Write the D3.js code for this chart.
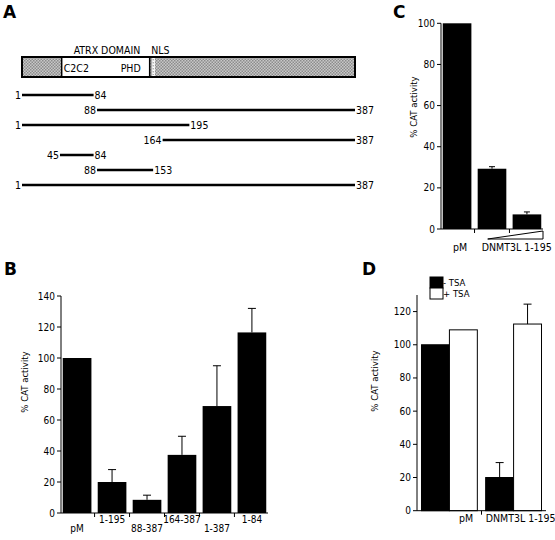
<!DOCTYPE html>
<html><head><meta charset="utf-8">
<script src="https://cdn.jsdelivr.net/npm/d3@7"></script>
<style>
body{margin:0;background:#fff;}
text{font-family:"DejaVu Sans Condensed","DejaVu Sans",sans-serif;fill:#000;}
</style></head>
<body><svg id="c" width="555" height="540"></svg>
<script>
// ---------- DATA ----------
// Panel A: constructs (residue ranges)
const fragStart = [1, 88, 1, 164, 45, 88, 1];
const fragEnd   = [84, 387, 195, 387, 84, 153, 387];
const proteinLen = [1, 387];
const atrxDomain = [47, 149];
const nlsRegion = [152, 155];
// Panel B
const bCats = ["pM", "1-195", "88-387", "164-387", "1-387", "1-84"];
const bVals = [100, 20, 8.5, 37.5, 69, 116.5];
const bErr  = [0, 8, 3, 12, 26, 15.5];
const bTicks = [0, 20, 40, 60, 80, 100, 120, 140];
// Panel C
const cCats = ["pM", "DNMT3L low", "DNMT3L high"];
const cVals = [100, 29.3, 7.1];
const cErr  = [0, 1, 1.2];
const cTicks = [0, 20, 40, 60, 80, 100];
// Panel D
const dCats = ["pM", "DNMT3L 1-195"];
const dSeries = ["- TSA", "+ TSA"];
const dMinus = [100, 20];
const dMinusErr = [0, 9];
const dPlus = [109, 112.5];
const dPlusErr = [0, 12];
const dTicks = [0, 20, 40, 60, 80, 100, 120];

const svg = d3.select("#c");
const FONT = 10;

// hatch pattern
const defs = svg.append("defs");
const pat = defs.append("pattern").attr("id","hatch").attr("width",3).attr("height",3)
  .attr("patternUnits","userSpaceOnUse");
pat.append("rect").attr("width",3).attr("height",3).attr("fill","#c8c8c8");
pat.append("rect").attr("width",1.5).attr("height",1.5).attr("fill","#8c8c8c");
pat.append("rect").attr("x",1.5).attr("y",1.5).attr("width",1.5).attr("height",1.5).attr("fill","#8c8c8c");

function panelLetter(t, x, y){
  svg.append("text").attr("x",x).attr("y",y).text(t)
    .style("font-family","'DejaVu Sans',sans-serif").style("font-weight","bold").style("font-size","17px");
}

// ---------- PANEL A ----------
panelLetter("A", 3, 18);
const xA = d3.scaleLinear().domain(proteinLen).range([22, 355]);
const gA = svg.append("g");
const barY = 57, barH = 20;
gA.append("rect").attr("x",xA(proteinLen[0])).attr("y",barY).attr("width",xA(proteinLen[1])-xA(proteinLen[0]))
  .attr("height",barH).attr("fill","url(#hatch)");
gA.append("rect").attr("x",xA(atrxDomain[0])).attr("y",barY).attr("width",xA(atrxDomain[1])-xA(atrxDomain[0]))
  .attr("height",barH).attr("fill","#fff").attr("stroke","#000").attr("stroke-width",1.5);
gA.append("rect").attr("x",xA(nlsRegion[0])).attr("y",barY).attr("width",xA(nlsRegion[1])-xA(nlsRegion[0]))
  .attr("height",barH).attr("fill","#fff");
gA.append("line").attr("x1",xA(nlsRegion[0])+1).attr("x2",xA(nlsRegion[0])+1).attr("y1",barY+2).attr("y2",barY+barH-2)
  .attr("stroke","#999").attr("stroke-width",1).attr("stroke-dasharray","1.5,1.5");
gA.append("rect").attr("x",xA(proteinLen[0])).attr("y",barY).attr("width",xA(proteinLen[1])-xA(proteinLen[0]))
  .attr("height",barH).attr("fill","none").attr("stroke","#000").attr("stroke-width",2);
gA.append("text").attr("x",xA(atrxDomain[0])+12).attr("y",barY-3).text("ATRX DOMAIN").style("font-size","10.5px");
gA.append("text").attr("x",xA(nlsRegion[0])-1).attr("y",barY-3).text("NLS").style("font-size","10.5px");
gA.append("text").attr("x",xA(atrxDomain[0])+2).attr("y",barY+15).text("C2C2").style("font-size","10.5px");
gA.append("text").attr("x",xA(atrxDomain[0])+59).attr("y",barY+15).text("PHD").style("font-size","10.5px");

const rowY = d3.scalePoint().domain(d3.range(fragStart.length)).range([95, 185]);
fragStart.forEach((s,i)=>{
  const y = rowY(i), e = fragEnd[i];
  gA.append("line").attr("x1",xA(s)).attr("x2",xA(e)).attr("y1",y).attr("y2",y)
    .attr("stroke","#000").attr("stroke-width",2.6);
  gA.append("text").attr("x",xA(s)-1).attr("y",y+4).attr("text-anchor","end").text(s).style("font-size","10.5px");
  gA.append("text").attr("x",xA(e)+1).attr("y",y+4).text(e).style("font-size","10.5px");
});

// generic axis drawing (Excel style)
function yAxis(g, y, ticks, x0, top){
  g.append("line").attr("x1",x0).attr("x2",x0).attr("y1",top).attr("y2",y(0)).attr("stroke","#000");
  ticks.forEach(t=>{
    g.append("line").attr("x1",x0-4).attr("x2",x0).attr("y1",y(t)).attr("y2",y(t)).attr("stroke","#000");
    g.append("text").attr("x",x0-6).attr("y",y(t)+3.5).attr("text-anchor","end").text(t).style("font-size",FONT+"px");
  });
}
function yLabel(g, x, cy){
  g.append("text").attr("transform",`translate(${x},${cy}) rotate(-90)`).attr("text-anchor","middle")
    .text("% CAT activity").style("font-size","9.5px");
}
function errBar(g, cx, top, errTop, cap){
  g.append("line").attr("x1",cx).attr("x2",cx).attr("y1",top).attr("y2",errTop).attr("stroke","#000");
  g.append("line").attr("x1",cx-cap).attr("x2",cx+cap).attr("y1",errTop).attr("y2",errTop).attr("stroke","#000");
}

// ---------- PANEL B ----------
panelLetter("B", 4, 275);
const gB = svg.append("g");
const yB = d3.scaleLinear().domain([0,140]).range([513, 296]);
const xB = d3.scaleBand().domain(bCats).range([61, 268]).paddingInner(0.18).paddingOuter(0.05);
bCats.forEach((c,i)=>{
  gB.append("rect").attr("x",xB(c)).attr("y",yB(bVals[i])).attr("width",xB.bandwidth())
    .attr("height",yB(0)-yB(bVals[i])).attr("fill","#000");
  if (bErr[i]>0) errBar(gB, xB(c)+xB.bandwidth()/2, yB(bVals[i]), yB(bVals[i]+bErr[i]), 4);
  gB.append("text").attr("x",xB(c)+xB.bandwidth()/2).attr("y", i%2===0 ? 532 : 523)
    .attr("text-anchor","middle").text(c).style("font-size",FONT+"px");
});
gB.append("line").attr("x1",61).attr("x2",268).attr("y1",yB(0)).attr("y2",yB(0)).attr("stroke","#000");
bCats.forEach((c,i)=>{ if(i>0){ const x = xB(c)-xB.step()*xB.paddingInner()/2;
  gB.append("line").attr("x1",x).attr("x2",x).attr("y1",yB(0)).attr("y2",yB(0)+4).attr("stroke","#000");}});
yAxis(gB, yB, bTicks, 61, 296);
yLabel(gB, 28, 382);

// ---------- PANEL C ----------
panelLetter("C", 393, 18);
const gC = svg.append("g");
const yC = d3.scaleLinear().domain([0,100]).range([229, 23.3]);
const xC = d3.scaleBand().domain(cCats).range([441, 543]).paddingInner(0.18).paddingOuter(0.05);
cCats.forEach((c,i)=>{
  gC.append("rect").attr("x",xC(c)).attr("y",yC(cVals[i])).attr("width",xC.bandwidth())
    .attr("height",yC(0)-yC(cVals[i])).attr("fill","#000");
  if (cErr[i]>0) errBar(gC, xC(c)+xC.bandwidth()/2, yC(cVals[i]), yC(cVals[i]+cErr[i]), 3);
});
gC.append("line").attr("x1",441).attr("x2",543).attr("y1",yC(0)).attr("y2",yC(0)).attr("stroke","#000");
cCats.forEach((c,i)=>{ if(i>0){ const x = xC(c)-xC.step()*xC.paddingInner()/2;
  gC.append("line").attr("x1",x).attr("x2",x).attr("y1",yC(0)).attr("y2",yC(0)+4).attr("stroke","#000");}});
yAxis(gC, yC, cTicks, 441, 23.3);
yLabel(gC, 417, 107);
// wedge
const wx0 = xC(cCats[1])+xC.bandwidth()*0.35, wx1 = 543;
gC.append("path").attr("d",`M${wx0},239 L${wx1},239 L${wx1},231 Z`)
  .attr("fill","none").attr("stroke","#000").attr("stroke-width",1);
gC.append("text").attr("x",xC(cCats[0])+xC.bandwidth()/2+3).attr("y",251).attr("text-anchor","middle")
  .text("pM").style("font-size","10.5px");
gC.append("text").attr("x",xC(cCats[1])+4).attr("y",251).text("DNMT3L 1-195").style("font-size","10.5px");

// ---------- PANEL D ----------
panelLetter("D", 362, 275);
const gD = svg.append("g");
const yD = d3.scaleLinear().domain([0,130]).range([510.7, 295]);
const xD = d3.scaleBand().domain(dCats).range([417, 546]).paddingInner(0.13).paddingOuter(0.07);
const xDs = d3.scaleBand().domain(dSeries).range([0, xD.bandwidth()]);
const dData = [[dMinus, dMinusErr, "#000"], [dPlus, dPlusErr, "#fff"]];
dCats.forEach((c,i)=>{
  dData.forEach((s,j)=>{
    const x = xD(c)+xDs(dSeries[j]);
    gD.append("rect").attr("x",x).attr("y",yD(s[0][i])).attr("width",xDs.bandwidth())
      .attr("height",yD(0)-yD(s[0][i])).attr("fill",s[2]).attr("stroke","#000").attr("stroke-width",1);
    if (s[1][i]>0) errBar(gD, x+xDs.bandwidth()/2, yD(s[0][i]), yD(s[0][i]+s[1][i]), 4);
  });
});
gD.append("line").attr("x1",417).attr("x2",546).attr("y1",yD(0)).attr("y2",yD(0)).attr("stroke","#000");
gD.append("line").attr("x1",xD(dCats[1])-xD.step()*xD.paddingInner()/2).attr("x2",xD(dCats[1])-xD.step()*xD.paddingInner()/2)
  .attr("y1",yD(0)).attr("y2",yD(0)+4).attr("stroke","#000");
yAxis(gD, yD, dTicks, 417, 295);
yLabel(gD, 378, 381);
gD.append("text").attr("x",xD(dCats[0])+xD.bandwidth()*0.8).attr("y",522).attr("text-anchor","middle")
  .text(dCats[0]).style("font-size","10.5px");
gD.append("text").attr("x",xD(dCats[1])).attr("y",522).text(dCats[1]).style("font-size","10.5px");
// legend
dSeries.forEach((s,j)=>{
  const ly = 277 + j*11;
  gD.append("rect").attr("x",430).attr("y",ly).attr("width",13).attr("height",11)
    .attr("fill",dData[j][2]).attr("stroke","#000").attr("stroke-width",1);
  gD.append("text").attr("x",443).attr("y",ly+9).text(s).style("font-size","9.5px");
});
</script></body></html>
